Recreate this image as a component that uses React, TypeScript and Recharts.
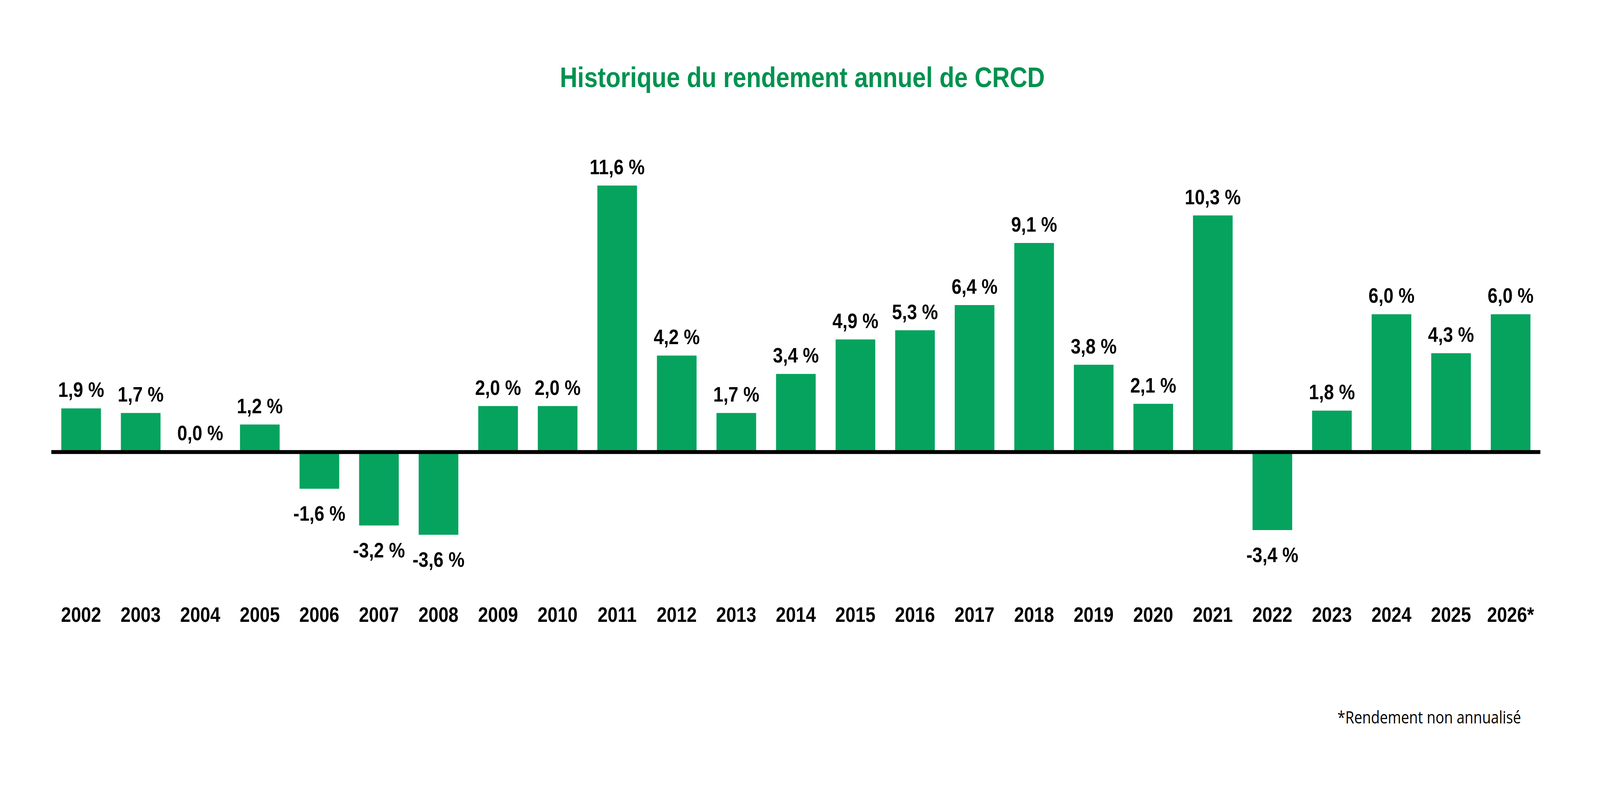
import React from 'react';
import { BarChart, Bar, XAxis, YAxis, ReferenceLine, LabelList } from 'recharts';

const years = [
  '2002', '2003', '2004', '2005', '2006', '2007', '2008', '2009', '2010', '2011', '2012', '2013',
  '2014', '2015', '2016', '2017', '2018', '2019', '2020', '2021', '2022', '2023', '2024', '2025', '2026*',
];
const returns = [
  1.9, 1.7, 0.0, 1.2, -1.6, -3.2, -3.6, 2.0, 2.0, 11.6, 4.2, 1.7,
  3.4, 4.9, 5.3, 6.4, 9.1, 3.8, 2.1, 10.3, -3.4, 1.8, 6.0, 4.3, 6.0,
];
const yDomain = [-6, 14];

const title = 'Historique du rendement annuel de CRCD';
const footnote = '*Rendement non annualisé';

const data = years.map((year, i) => ({ year, value: returns[i] }));

const W = 4802;
const H = 2025;
const BAR = '#05A35E';
const TITLE = '#00924F';
const FONT = '"Liberation Sans", Arial, sans-serif';

const fmt = (v: number) => v.toFixed(1).replace('.', ',') + ' %';

function YearTick(props: any) {
  const { x, y, payload } = props;
  return (
    <text x={x} y={y + 82} textAnchor="middle" fontFamily={FONT} fontWeight="bold" fontSize={54} fill="#000">
      {payload.value}
    </text>
  );
}

function ValueLabel(props: any) {
  const { x, y, width, height, value } = props;
  const top = Math.min(y, y + height);
  const bottom = Math.max(y, y + height);
  const ty = value < 0 ? bottom + 82 : top - 29;
  return (
    <text x={x + width / 2} y={ty} textAnchor="middle" fontFamily={FONT} fontWeight="bold" fontSize={54} fill="#000">
      {fmt(value)}
    </text>
  );
}

export default function App() {
  // the window may be narrower than the chart: squeeze it horizontally so it all stays visible
  const sx = Math.min(1, window.innerWidth / W);
  return (
    <div style={{ position: 'absolute', left: 0, top: 0, width: W * sx, height: H, overflow: 'hidden', background: '#fff' }}>
      <div style={{ position: 'relative', width: W, height: H, transform: `scaleX(${sx})`, transformOrigin: '0 0' }}>
        <BarChart
          width={W}
          height={H}
          data={data}
          margin={{ top: 334, right: 179, left: 154, bottom: 415 }}
        >
          <XAxis
            dataKey="year"
            axisLine={false}
            tickLine={false}
            tickSize={0}
            tickMargin={0}
            height={100}
            interval={0}
            tick={<YearTick />}
          />
          <YAxis hide domain={yDomain} />
          {/* minPointSize keeps the 0,0 % bar (hidden under the axis) so its label is drawn */}
          <Bar dataKey="value" fill={BAR} barSize={119} minPointSize={1} isAnimationActive={false}>
            <LabelList dataKey="value" content={<ValueLabel />} />
          </Bar>
          <ReferenceLine y={0} stroke="#000" strokeWidth={10} />
        </BarChart>
        <svg width={W} height={H} style={{ position: 'absolute', left: 0, top: 0, pointerEvents: 'none' }}>
          <text x={2408} y={223} textAnchor="middle" fontFamily={FONT} fontWeight="bold" fontSize={73} fill={TITLE}>
            {title}
          </text>
          <text x={4014} y={1852} textAnchor="start" fontFamily='"Open Sans", sans-serif' fontSize={43} fill="#000">
            {footnote}
          </text>
        </svg>
      </div>
    </div>
  );
}
